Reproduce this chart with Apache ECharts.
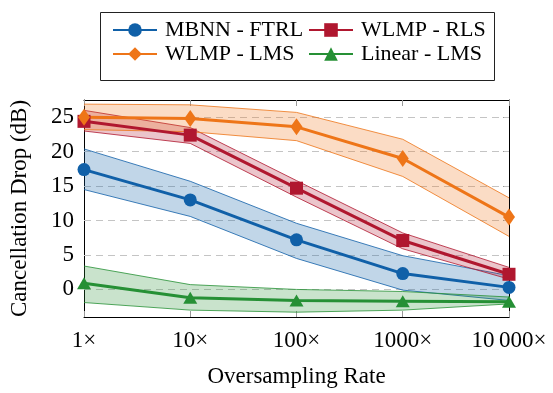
<!DOCTYPE html>
<html>
<head>
<meta charset="utf-8">
<script src="https://cdn.jsdelivr.net/npm/echarts@6/dist/echarts.min.js"></script>
<style>
  html, body { margin: 0; padding: 0; background: #fff; }
  #main { width: 553px; height: 393px; }
</style>
</head>
<body>
<div id="main"></div>
<script>
var rates = [1, 10, 100, 1000, 10000];
var rateLabels = ['1×', '10×', '100×', '1000×', '10\u2009000×'];
var yTicks = [0, 5, 10, 15, 20, 25];

var mbnn     = [17.4, 13.0, 7.2, 2.3, 0.3];
var mbnnLow  = [14.5, 10.6, 4.5, -0.1, -1.6];
var mbnnHigh = [20.4, 15.7, 9.6, 4.9, 2.0];

var rls     = [24.4, 22.4, 14.7, 7.1, 2.2];
var rlsLow  = [23.0, 21.2, 13.4, 5.9, 1.5];
var rlsHigh = [26.0, 23.5, 15.8, 8.2, 3.2];

var lms     = [25.0, 24.8, 23.6, 19.0, 10.5];
var lmsLow  = [23.2, 22.9, 21.6, 16.4, 7.7];
var lmsHigh = [26.9, 26.8, 25.7, 21.8, 13.3];

var lin     = [0.9, -1.2, -1.6, -1.7, -1.8];
var linLow  = [-1.9, -3.0, -3.3, -3.0, -2.1];
var linHigh = [3.4, 0.7, 0.0, -0.3, -1.1];

var serif = 'Liberation Serif';

function pairs(vals) {
    var out = [];
    for (var i = 0; i < rates.length; i++) out.push([rates[i], vals[i]]);
    return out;
}

// shaded band between low and high, drawn as one polygon through the axes
function bandSeries(color, fill, lo, hi) {
    var data = [];
    for (var i = 0; i < rates.length; i++) data.push([rates[i], lo[i], hi[i]]);
    return {
        type: 'custom',
        silent: true,
        z: 2,
        encode: {x: 0, y: [1, 2]},
        data: data,
        renderItem: function (params, api) {
            if (params.dataIndexInside !== 0) return;
            var n = params.dataInsideLength || rates.length;
            var upper = [], lower = [];
            for (var k = 0; k < n; k++) {
                upper.push(api.coord([api.value(0, k), api.value(2, k)]));
                lower.push(api.coord([api.value(0, k), api.value(1, k)]));
            }
            var poly = upper.concat(lower.slice().reverse());
            return {
                type: 'group',
                children: [
                    {type: 'polygon', shape: {points: poly}, style: {fill: fill, stroke: null}},
                    {type: 'polyline', shape: {points: upper}, style: {fill: null, stroke: color, lineWidth: 0.8}},
                    {type: 'polyline', shape: {points: lower}, style: {fill: null, stroke: color, lineWidth: 0.8}}
                ]
            };
        }
    };
}

function mainSeries(name, color, vals, symbol, size) {
    return {
        name: name,
        type: 'line',
        data: pairs(vals),
        symbol: symbol,
        symbolSize: size,
        z: 5,
        itemStyle: {color: color},
        lineStyle: {color: color, width: 3}
    };
}

var blue = '#1060a8', red = '#b0172f', orange = '#ee7518', green = '#269035';

var series = [
    bandSeries(blue, 'rgba(16,96,168,0.26)', mbnnLow, mbnnHigh),
    bandSeries(red, 'rgba(176,23,47,0.25)', rlsLow, rlsHigh),
    bandSeries(orange, 'rgba(238,117,24,0.25)', lmsLow, lmsHigh),
    bandSeries(green, 'rgba(38,144,53,0.25)', linLow, linHigh),
    mainSeries('MBNN - FTRL', blue, mbnn, 'circle', 13),
    mainSeries('WLMP - RLS', red, rls, 'rect', 13),
    mainSeries('WLMP - LMS', orange, lms, 'diamond', [12, 17]),
    mainSeries('Linear - LMS', green, lin, 'triangle', [14, 12])
];

// dashed horizontal grid lines
series[series.length - 1].markLine = {
    silent: true,
    symbol: 'none',
    label: {show: false},
    lineStyle: {color: '#c4c4c4', type: [7, 5], width: 1},
    data: yTicks.map(function (v) { return {yAxis: v}; }),
    z: 1
};

var legendBase = {
    orient: 'vertical',
    top: 14,
    itemGap: 2,
    itemWidth: 44,
    itemHeight: 17,
    textStyle: {fontFamily: serif, fontSize: 22, color: '#000', padding: [0, 0, 0, 3]}
};

var chart = echarts.init(document.getElementById('main'));
chart.setOption({
    backgroundColor: '#fff',
    animation: false,
    graphic: [{
        type: 'rect',
        left: 98,
        top: 10,
        shape: {width: 394, height: 68},
        style: {fill: 'none', stroke: '#222', lineWidth: 1}
    }],
    legend: [
        Object.assign({left: 107, data: ['MBNN - FTRL', 'WLMP - LMS']}, legendBase),
        Object.assign({left: 303, data: ['WLMP - RLS', 'Linear - LMS']}, legendBase)
    ],
    grid: {left: 83, right: 44, top: 100, bottom: 67},
    xAxis: [
        {
            type: 'log',
            logBase: 10,
            min: 1,
            max: 10000,
            name: 'Oversampling Rate',
            nameLocation: 'middle',
            nameGap: 48,
            nameTextStyle: {fontFamily: serif, fontSize: 23, color: '#000'},
            axisLine: {onZero: false, lineStyle: {color: '#000', width: 1}},
            axisTick: {inside: true, length: 6, lineStyle: {color: '#999'}},
            axisLabel: {
                fontFamily: serif, fontSize: 23, color: '#000', margin: 12,
                formatter: function (v) {
                    var i = rates.indexOf(Math.round(v));
                    return i >= 0 ? rateLabels[i] : '';
                }
            },
            splitLine: {show: false},
            minorTick: {show: false}
        },
        {
            type: 'log',
            logBase: 10,
            min: 1,
            max: 10000,
            position: 'top',
            axisLine: {onZero: false, lineStyle: {color: '#000', width: 1}},
            axisTick: {inside: true, length: 6, lineStyle: {color: '#999'}},
            axisLabel: {show: false},
            splitLine: {show: false}
        }
    ],
    yAxis: [
        {
            type: 'value',
            min: -4,
            max: 27.5,
            name: 'Cancellation Drop (dB)',
            nameLocation: 'middle',
            nameGap: 53,
            nameTextStyle: {fontFamily: serif, fontSize: 23, color: '#000'},
            axisLine: {show: true, onZero: false, lineStyle: {color: '#000', width: 1}},
            axisTick: {show: true, inside: true, length: 6, customValues: yTicks, lineStyle: {color: '#999'}},
            axisLabel: {fontFamily: serif, fontSize: 23, color: '#000', margin: 10, customValues: yTicks},
            splitLine: {show: false}
        },
        {
            type: 'value',
            min: -4,
            max: 27.5,
            position: 'right',
            axisLine: {show: true, onZero: false, lineStyle: {color: '#000', width: 1}},
            axisTick: {show: true, inside: true, length: 6, customValues: yTicks, lineStyle: {color: '#999'}},
            axisLabel: {show: false},
            splitLine: {show: false}
        }
    ],
    series: series
});
</script>
</body>
</html>
